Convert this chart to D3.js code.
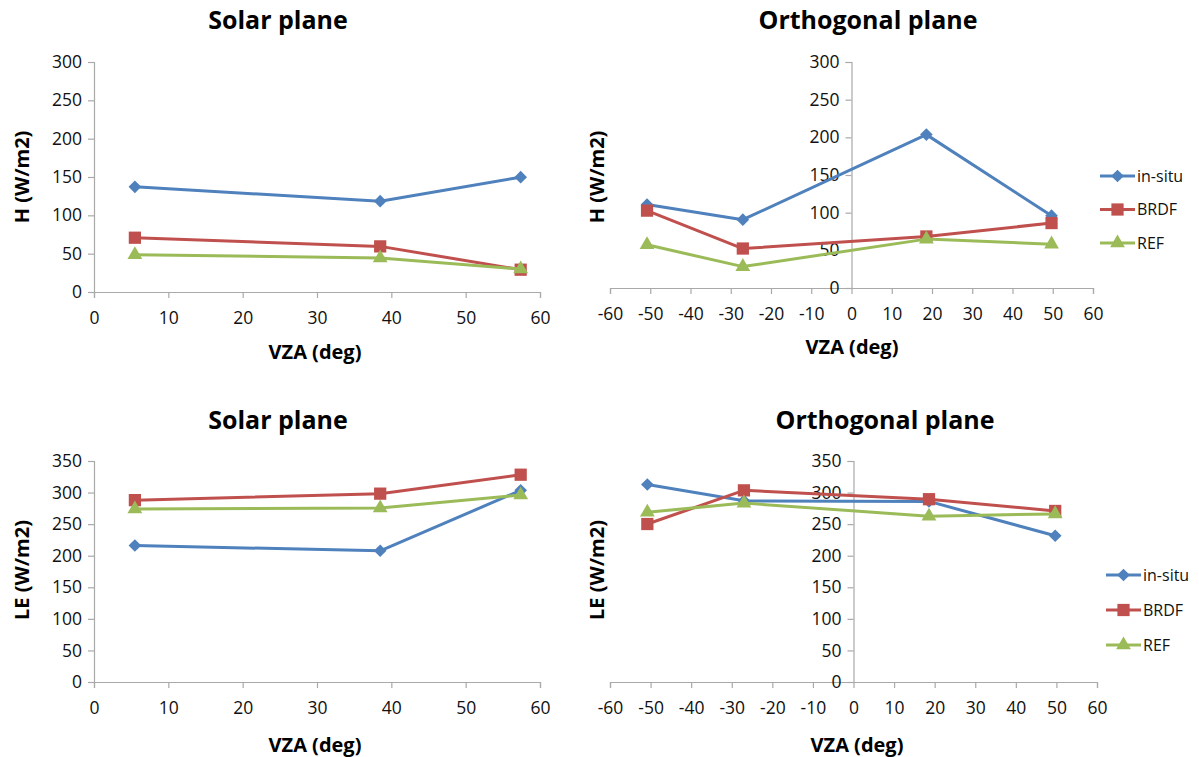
<!DOCTYPE html>
<html>
<head>
<meta charset="utf-8">
<script src="https://cdn.jsdelivr.net/npm/d3@7"></script>
<style>
  html, body { margin: 0; padding: 0; background: #fff; }
  svg { display: block; font-family: "Open Sans", "DejaVu Sans", sans-serif; }
</style>
</head>
<body>
<svg id="chart" width="1199" height="757"></svg>
<script>
// View zenith angles (deg) of the sampled observations
const solarVZA = [5.5, 38.5, 57.4];
const orthoVZA = [-50.8, -27.0, 18.6, 49.7];

// Series labels and colours
const seriesNames = ["in-situ", "BRDF", "REF"];
const seriesColors = ["#4F81BD", "#C0504D", "#9BBB59"];

// Sensible heat flux H (W/m2)
const hSolarInsitu = [137.2, 118.5, 149.8];
const hSolarBrdf   = [70.8, 59.5, 29.1];
const hSolarRef    = [48.6, 44.3, 30.0];
const hOrthoInsitu = [110.7, 90.7, 203.6, 96.0];
const hOrthoBrdf   = [102.7, 52.4, 68.4, 86.2];
const hOrthoRef    = [57.3, 28.4, 64.9, 58.2];

// Latent heat flux LE (W/m2)
const leSolarInsitu = [216.1, 207.8, 303.5];
const leSolarBrdf   = [288.0, 298.3, 328.3];
const leSolarRef    = [274.0, 275.5, 296.2];
const leOrthoInsitu = [312.8, 286.9, 286.0, 231.6];
const leOrthoBrdf   = [250.2, 303.5, 289.5, 270.9];
const leOrthoRef    = [268.8, 283.3, 262.6, 266.2];

// Tick values
const hTicks = [0, 50, 100, 150, 200, 250, 300];
const leTicks = [0, 50, 100, 150, 200, 250, 300, 350];
const solarXTicks = [0, 10, 20, 30, 40, 50, 60];
const orthoXTicks = [-60, -50, -40, -30, -20, -10, 0, 10, 20, 30, 40, 50, 60];

const svg = d3.select("#chart");

const axisColor = "#A9A9A9";
const textColor = "#111";
const plainNumber = d => String(d);   // keeps the ASCII hyphen for negatives

// Excel-like marker shapes: rotated square (diamond), square, triangle
const markerPath = [
  d3.symbol().type(d3.symbolSquare).size(80)(),
  d3.symbol().type(d3.symbolSquare).size(150)(),
  d3.symbol().type(d3.symbolTriangle).size(95)()
];
const markerRotate = [45, 0, 0];

function drawMarker(g, i, x, y) {
  g.append("path")
    .attr("d", markerPath[i])
    .attr("transform", `translate(${x},${y}) rotate(${markerRotate[i]})`)
    .attr("fill", seriesColors[i]);
}

function panel(opt) {
  const g = svg.append("g");
  const x = d3.scaleLinear().domain(opt.xDomain).range([opt.x0, opt.x1]);
  const y = d3.scaleLinear().domain(opt.yDomain).range([opt.y0, opt.y1]);

  // x axis along y = 0
  const xAxis = g.append("g")
    .attr("transform", `translate(0,${y(0)})`)
    .call(d3.axisBottom(x).tickValues(opt.xTicks).tickSize(6).tickPadding(12).tickFormat(plainNumber));
  // y axis along x = 0
  const yAxis = g.append("g")
    .attr("transform", `translate(${x(0)},0)`)
    .call(d3.axisLeft(y).tickValues(opt.yTicks).tickSize(6).tickPadding(6).tickFormat(plainNumber));

  [xAxis, yAxis].forEach(a => {
    a.select(".domain").attr("stroke", axisColor).attr("stroke-width", 1.2);
    a.selectAll(".tick line").attr("stroke", axisColor).attr("stroke-width", 1.2);
    a.selectAll(".tick text")
      .attr("fill", textColor)
      .style("font-size", "17.5px")
      .style("font-family", "'Open Sans', sans-serif");
  });
  xAxis.selectAll(".tick text").attr("dy", "0.8em");

  // data lines and markers
  const line = d3.line().x(d => x(d[0])).y(d => y(d[1]));
  opt.series.forEach((vals, i) => {
    const pts = opt.xVals.map((v, k) => [v, vals[k]]);
    g.append("path")
      .attr("d", line(pts))
      .attr("fill", "none")
      .attr("stroke", seriesColors[i])
      .attr("stroke-width", 3)
      .attr("stroke-linejoin", "round");
    pts.forEach(p => drawMarker(g, i, x(p[0]), y(p[1])));
  });

  // titles
  g.append("text")
    .attr("x", opt.titleX).attr("y", opt.titleY)
    .attr("text-anchor", "middle")
    .attr("fill", "#000")
    .style("font-size", "25px").style("font-weight", "bold")
    .text(opt.title);
  g.append("text")
    .attr("x", opt.xTitleX).attr("y", opt.xTitleY)
    .attr("text-anchor", "middle")
    .attr("fill", "#000")
    .style("font-size", "20px").style("font-weight", "bold")
    .text("VZA (deg)");
  g.append("text")
    .attr("transform", `translate(${opt.yTitleX},${opt.yTitleY}) rotate(-90)`)
    .attr("text-anchor", "middle")
    .attr("fill", "#000")
    .style("font-size", "20px").style("font-weight", "bold")
    .text(opt.yTitle);

  // legend
  if (opt.legendX !== undefined) {
    seriesNames.forEach((name, i) => {
      const ly = opt.legendY + i * opt.legendStep;
      g.append("line")
        .attr("x1", opt.legendX).attr("x2", opt.legendX + 35)
        .attr("y1", ly).attr("y2", ly)
        .attr("stroke", seriesColors[i]).attr("stroke-width", 3);
      drawMarker(g, i, opt.legendX + 17.5, ly);
      g.append("text")
        .attr("x", opt.legendX + 37).attr("y", ly)
        .attr("dy", "0.35em")
        .attr("fill", textColor)
        .style("font-size", "16px")
        .text(name);
    });
  }
}

panel({
  xDomain: [0, 60], yDomain: [0, 300], x0: 94, x1: 540, y0: 292, y1: 62,
  xTicks: solarXTicks, yTicks: hTicks, xVals: solarVZA,
  series: [hSolarInsitu, hSolarBrdf, hSolarRef],
  title: "Solar plane", titleX: 278, titleY: 29,
  xTitleX: 315, xTitleY: 359, yTitle: "H (W/m2)", yTitleX: 29, yTitleY: 177
});

panel({
  xDomain: [-60, 60], yDomain: [0, 300], x0: 610, x1: 1093, y0: 288, y1: 62,
  xTicks: orthoXTicks, yTicks: hTicks, xVals: orthoVZA,
  series: [hOrthoInsitu, hOrthoBrdf, hOrthoRef],
  title: "Orthogonal plane", titleX: 868, titleY: 29,
  xTitleX: 852, xTitleY: 354, yTitle: "H (W/m2)", yTitleX: 604, yTitleY: 177,
  legendX: 1100, legendY: 176, legendStep: 33.5
});

panel({
  xDomain: [0, 60], yDomain: [0, 350], x0: 94, x1: 540, y0: 682, y1: 461,
  xTicks: solarXTicks, yTicks: leTicks, xVals: solarVZA,
  series: [leSolarInsitu, leSolarBrdf, leSolarRef],
  title: "Solar plane", titleX: 278, titleY: 429,
  xTitleX: 315, xTitleY: 752, yTitle: "LE (W/m2)", yTitleX: 29, yTitleY: 570
});

panel({
  xDomain: [-60, 60], yDomain: [0, 350], x0: 610, x1: 1097, y0: 682, y1: 461,
  xTicks: orthoXTicks, yTicks: leTicks, xVals: orthoVZA,
  series: [leOrthoInsitu, leOrthoBrdf, leOrthoRef],
  title: "Orthogonal plane", titleX: 885, titleY: 429,
  xTitleX: 857, xTitleY: 752, yTitle: "LE (W/m2)", yTitleX: 604, yTitleY: 570,
  legendX: 1106, legendY: 575, legendStep: 35
});
</script>
</body>
</html>
